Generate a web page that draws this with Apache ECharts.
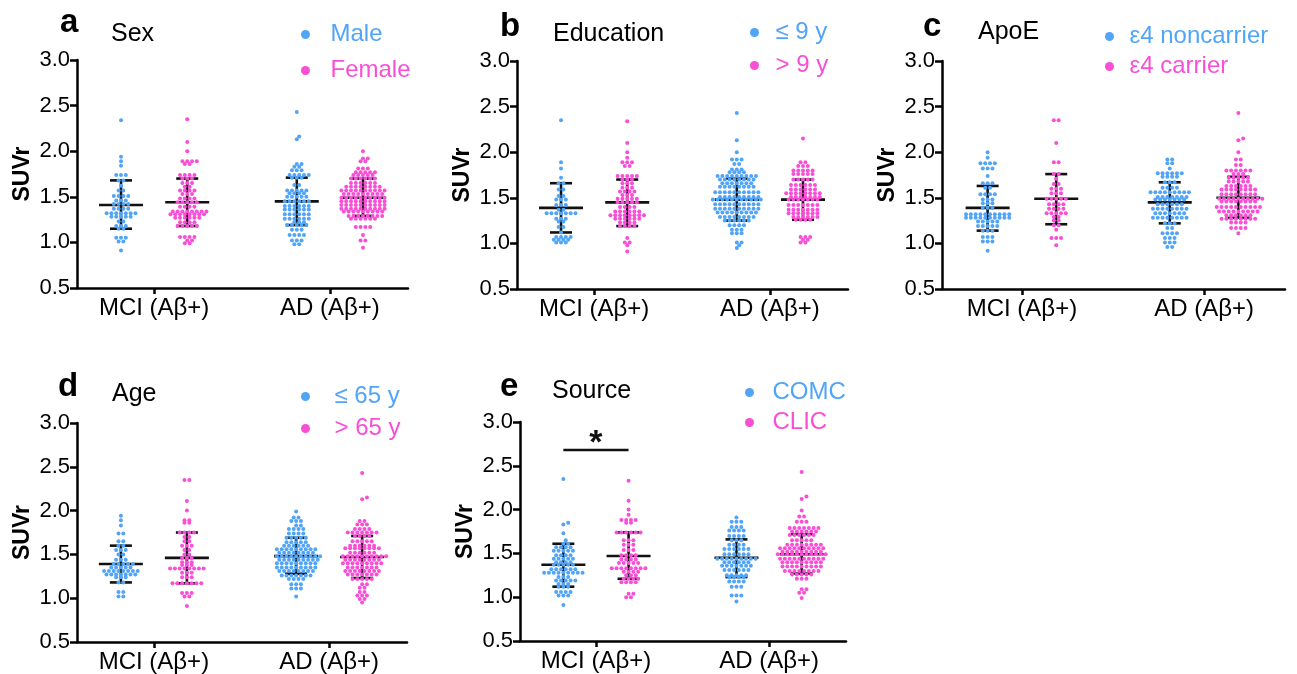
<!DOCTYPE html>
<html><head><meta charset="utf-8">
<script src="https://cdn.jsdelivr.net/npm/echarts@6/dist/echarts.min.js"></script>
<style>html,body{margin:0;padding:0;background:#fff}#c{width:1297px;height:674px}</style>
</head><body><div id="c"></div>
<script>
// ---------------- DATA ----------------
const categories = ['MCI (Aβ+)', 'AD (Aβ+)'];
const yTicks = [0.5, 1.0, 1.5, 2.0, 2.5, 3.0];
const panelLetters = ['a', 'b', 'c', 'd', 'e'];
const panelTitles = ['Sex', 'Education', 'ApoE', 'Age', 'Source'];
const legendNames = [['Male', 'Female'], ['≤ 9 y', '> 9 y'], ['ε4 noncarrier', 'ε4 carrier'], ['≤ 65 y', '> 65 y'], ['COMC', 'CLIC']];

// rows: [SUVr value, number of subjects at that value]
const sexMciMale = [[2.34,1],[1.94,1],[1.89,1],[1.84,1],[1.74,3],[1.68,2],[1.62,1],[1.57,2],[1.51,4],[1.46,3],[1.42,4],[1.37,4],[1.32,7],[1.28,5],[1.23,2],[1.18,3],[1.15,2],[1.05,3],[1.01,2],[0.91,1]];
const sexMciFemale = [[2.35,1],[2.10,1],[2.00,1],[1.89,4],[1.86,2],[1.74,4],[1.70,3],[1.65,3],[1.61,2],[1.57,4],[1.53,3],[1.48,4],[1.44,5],[1.39,4],[1.34,8],[1.31,8],[1.27,6],[1.22,4],[1.18,5],[1.06,4],[1.02,2],[0.99,2]];
const sexAdMale = [[2.43,1],[2.16,1],[2.13,1],[1.86,2],[1.83,2],[1.79,3],[1.74,5],[1.71,3],[1.63,2],[1.57,5],[1.54,4],[1.50,5],[1.45,6],[1.40,6],[1.36,6],[1.31,6],[1.26,6],[1.22,3],[1.19,5],[1.14,3],[1.08,4],[1.02,3],[0.98,2]];
const sexAdFemale = [[2.00,1],[1.92,2],[1.89,2],[1.81,3],[1.77,5],[1.74,5],[1.70,6],[1.65,6],[1.61,8],[1.57,10],[1.53,9],[1.49,10],[1.45,10],[1.41,10],[1.37,10],[1.34,9],[1.29,8],[1.26,6],[1.17,4],[1.08,1],[1.02,2],[0.94,1]];

const eduMciLow = [[2.35,1],[1.89,1],[1.82,1],[1.72,1],[1.66,2],[1.59,2],[1.52,2],[1.48,3],[1.42,3],[1.37,2],[1.33,7],[1.27,3],[1.24,2],[1.18,2],[1.12,1],[1.07,4],[1.04,4],[1.01,3]];
const eduMciHigh = [[2.34,1],[2.10,1],[2.00,1],[1.94,1],[1.89,3],[1.85,2],[1.74,5],[1.70,3],[1.66,3],[1.61,3],[1.57,4],[1.53,3],[1.49,5],[1.45,5],[1.40,4],[1.35,6],[1.31,8],[1.27,6],[1.23,4],[1.19,4],[1.06,1],[1.01,2],[0.98,1],[0.91,1]];
const eduAdLow = [[2.43,1],[2.13,1],[2.00,1],[1.92,3],[1.87,2],[1.81,3],[1.78,4],[1.74,9],[1.70,8],[1.66,7],[1.62,8],[1.56,10],[1.51,9],[1.48,11],[1.43,10],[1.38,10],[1.34,9],[1.29,8],[1.25,6],[1.20,4],[1.15,3],[1.11,3],[1.01,2],[0.98,1],[0.95,1]];
const eduAdHigh = [[2.15,1],[1.89,2],[1.85,3],[1.80,5],[1.76,5],[1.70,5],[1.64,6],[1.59,6],[1.55,8],[1.51,7],[1.48,7],[1.42,7],[1.37,7],[1.33,7],[1.29,6],[1.26,4],[1.07,3],[1.04,2],[1.01,2]];

const apoeMciNon = [[2.00,1],[1.94,1],[1.88,4],[1.82,3],[1.74,1],[1.66,3],[1.61,2],[1.54,4],[1.48,3],[1.44,3],[1.39,3],[1.32,10],[1.28,10],[1.24,5],[1.19,5],[1.14,3],[1.07,3],[1.02,3],[0.92,1]];
const apoeMciCar = [[2.35,2],[2.10,1],[1.89,2],[1.76,2],[1.71,1],[1.65,2],[1.60,3],[1.55,3],[1.49,5],[1.43,4],[1.38,4],[1.33,5],[1.29,2],[1.25,2],[1.20,2],[1.15,1],[1.06,3],[0.98,1]];
const apoeAdNon = [[1.92,2],[1.88,2],[1.82,1],[1.77,6],[1.73,4],[1.67,3],[1.61,4],[1.56,9],[1.51,7],[1.48,7],[1.43,6],[1.38,8],[1.33,7],[1.28,8],[1.22,3],[1.17,2],[1.11,4],[1.06,3],[1.01,3],[0.96,2]];
const apoeAdCar = [[2.43,1],[2.15,1],[2.13,1],[2.00,1],[1.92,2],[1.86,2],[1.80,6],[1.76,3],[1.72,5],[1.68,5],[1.63,6],[1.59,8],[1.54,8],[1.49,10],[1.46,8],[1.40,10],[1.35,9],[1.31,6],[1.27,8],[1.23,4],[1.17,4],[1.11,1]];

const ageMciLow = [[1.94,1],[1.89,1],[1.83,1],[1.74,2],[1.65,2],[1.60,2],[1.55,3],[1.50,2],[1.44,3],[1.39,5],[1.35,5],[1.31,8],[1.27,7],[1.24,3],[1.18,2],[1.07,2],[1.02,2]];
const ageMciHigh = [[2.35,2],[2.11,1],[2.00,1],[1.89,2],[1.86,2],[1.75,4],[1.70,2],[1.65,2],[1.60,3],[1.55,2],[1.50,2],[1.46,3],[1.41,3],[1.38,3],[1.34,8],[1.29,3],[1.24,3],[1.17,7],[1.06,3],[1.02,2],[0.91,1]];
const ageAdLow = [[1.99,1],[1.92,2],[1.88,3],[1.83,2],[1.79,4],[1.74,4],[1.69,5],[1.64,5],[1.60,6],[1.56,9],[1.52,8],[1.48,10],[1.44,9],[1.40,9],[1.35,9],[1.31,8],[1.26,7],[1.22,4],[1.16,3],[1.11,3],[1.02,1]];
const ageAdHigh = [[2.43,1],[2.15,1],[2.13,1],[1.88,2],[1.84,3],[1.79,4],[1.75,7],[1.71,4],[1.65,5],[1.60,6],[1.57,8],[1.52,6],[1.48,10],[1.44,8],[1.40,9],[1.35,7],[1.31,8],[1.27,7],[1.22,5],[1.16,2],[1.12,2],[1.07,2],[1.03,3],[0.99,2],[0.95,1]];

const srcMciComc = [[2.35,1],[1.85,1],[1.83,1],[1.73,1],[1.65,1],[1.61,2],[1.57,4],[1.53,5],[1.48,4],[1.44,5],[1.40,4],[1.37,5],[1.32,6],[1.28,9],[1.23,3],[1.19,5],[1.15,3],[1.12,3],[1.06,4],[1.02,3],[0.91,1]];
const srcMciClic = [[2.33,1],[2.10,1],[2.00,1],[1.94,1],[1.88,4],[1.85,2],[1.74,6],[1.65,3],[1.60,3],[1.54,3],[1.48,4],[1.43,4],[1.39,5],[1.33,8],[1.29,4],[1.25,3],[1.21,4],[1.17,4],[1.04,2],[1.00,2]];
const srcAdComc = [[1.91,1],[1.86,3],[1.80,3],[1.76,4],[1.70,4],[1.65,3],[1.60,4],[1.55,6],[1.49,6],[1.44,9],[1.40,6],[1.36,7],[1.31,6],[1.25,5],[1.23,4],[1.18,4],[1.12,3],[1.02,3],[0.95,1]];
const srcAdClic = [[2.43,1],[2.15,1],[2.12,1],[1.99,1],[1.92,2],[1.86,3],[1.79,7],[1.75,6],[1.71,6],[1.65,5],[1.60,8],[1.56,10],[1.52,9],[1.49,11],[1.44,10],[1.40,9],[1.35,9],[1.30,8],[1.26,5],[1.21,3],[1.09,2],[1.05,2],[0.99,1]];

// [mean, mean-SD, mean+SD] for MCI-blue, MCI-pink, AD-blue, AD-pink
const sexStats = [[1.41,1.15,1.68],[1.44,1.18,1.70],[1.45,1.19,1.71],[1.49,1.29,1.70]];
const eduStats = [[1.39,1.12,1.66],[1.45,1.19,1.70],[1.48,1.25,1.71],[1.48,1.26,1.70]];
const apoeStats = [[1.39,1.14,1.63],[1.49,1.21,1.76],[1.45,1.22,1.67],[1.50,1.28,1.73]];
const ageStats = [[1.39,1.18,1.60],[1.46,1.17,1.75],[1.48,1.28,1.69],[1.47,1.23,1.71]];
const srcStats = [[1.37,1.12,1.61],[1.47,1.21,1.74],[1.45,1.23,1.66],[1.49,1.27,1.72]];

// significance: panel index, group index from, group index to, SUVr level, label
const sigBars = [[4, 0, 1, 2.68, '*']];

// ---------------- LAYOUT ----------------
const FONT = 'Liberation Sans, Arial, sans-serif';
const colors = ['#52a5f6', '#f84fd6'];
const catPos = [0.233, 0.764];
const subPos = [0.133, 0.333, 0.664, 0.864];
const panelGroups = [
  [sexMciMale, sexMciFemale, sexAdMale, sexAdFemale],
  [eduMciLow, eduMciHigh, eduAdLow, eduAdHigh],
  [apoeMciNon, apoeMciCar, apoeAdNon, apoeAdCar],
  [ageMciLow, ageMciHigh, ageAdLow, ageAdHigh],
  [srcMciComc, srcMciClic, srcAdComc, srcAdClic]
];
const panelStats = [sexStats, eduStats, apoeStats, ageStats, srcStats];
const panels = [
  {grid:{left:77, top:60, width:331, height:228}, letter:[60,33], title:[111,42], legend:{left:301, top:22, w:40, gap:11}},
  {grid:{left:517, top:61, width:331, height:228}, letter:[500,37], title:[553,42], legend:{left:750, top:20, w:32, gap:8}},
  {grid:{left:942, top:61, width:343, height:228}, letter:[923,37], title:[978,40], legend:{left:1105, top:24, w:30, gap:5}},
  {grid:{left:77, top:423, width:330, height:220}, letter:[58,397], title:[112,402], legend:{left:301, top:384, w:48, gap:7}},
  {grid:{left:520, top:422, width:326, height:219}, letter:[500,397], title:[552,399], legend:{left:745, top:380, w:36, gap:5}}
];

const DOT_DX = 4.8, DOT_MIN = 3.6;
function swarm(rows, center, grid) {
  const pxY = grid.height / (yTicks[yTicks.length-1] - yTicks[0]);
  const placed = [], pts = [];
  const sorted = rows.slice().sort((a, b) => a[0] - b[0]);
  for (const [v, n] of sorted) {
    const py = v * pxY;
    const base = [];
    for (let i = 0; i < n; i++) base.push((i - (n - 1) / 2) * DOT_DX);
    let best = 0;
    for (const s of [0, DOT_DX/2, -DOT_DX/2, DOT_DX, -DOT_DX]) {
      const ok = base.every(bx => placed.every(([qx, qy]) => Math.hypot(bx + s - qx, py - qy) >= DOT_MIN));
      if (ok) { best = s; break; }
    }
    for (const bx of base) {
      placed.push([bx + best, py]);
      pts.push([center + (bx + best) / grid.width, v]);
    }
  }
  return pts;
}

const grids = [], xAxes = [], yAxes = [], series = [], legends = [], graphics = [];
panels.forEach((pn, p) => {
  grids.push(Object.assign({containLabel:false}, pn.grid));
  xAxes.push({
    type:'value', gridIndex:p, min:0, max:1,
    axisLine:{show:true, onZero:false, lineStyle:{color:'#000', width:2.5}},
    axisTick:{show:true, length:6, lineStyle:{color:'#000', width:2.5}, customValues:catPos},
    axisLabel:{show:true, customValues:catPos, margin:8, color:'#000', fontSize:24, fontFamily:FONT,
      formatter:v => v < 0.5 ? categories[0] : categories[1]},
    splitLine:{show:false}
  });
  yAxes.push({
    type:'value', gridIndex:p, min:yTicks[0], max:yTicks[yTicks.length-1], interval:0.5,
    name:'SUVr', nameLocation:'middle', nameGap:43,
    nameTextStyle:{fontSize:23, fontWeight:'bold', color:'#000', fontFamily:FONT},
    axisLine:{show:true, lineStyle:{color:'#000', width:2.5}},
    axisTick:{show:true, length:7, lineStyle:{color:'#000', width:2.5}},
    axisLabel:{margin:7, color:'#000', fontSize:22, fontFamily:FONT, formatter:v => v.toFixed(1)},
    splitLine:{show:false}
  });
  series.push({
    type:'custom', xAxisIndex:p, yAxisIndex:p, z:2, silent:true,
    data: panelStats[p].map((s, g) => [subPos[g], s[0], s[1], s[2]]),
    encode:{x:0, y:[1,2,3]},
    renderItem:(params, api) => {
      const x = api.value(0);
      const pm = api.coord([x, api.value(1)]), pl = api.coord([x, api.value(2)]), ph = api.coord([x, api.value(3)]);
      const st = {stroke:'#111', lineWidth:2.6};
      return {type:'group', children:[
        {type:'line', shape:{x1:pl[0], y1:pl[1], x2:ph[0], y2:ph[1]}, style:st},
        {type:'line', shape:{x1:pm[0]-22, y1:pm[1], x2:pm[0]+22, y2:pm[1]}, style:st},
        {type:'line', shape:{x1:pl[0]-11, y1:pl[1], x2:pl[0]+11, y2:pl[1]}, style:st},
        {type:'line', shape:{x1:ph[0]-11, y1:ph[1], x2:ph[0]+11, y2:ph[1]}, style:st}
      ]};
    }
  });
  [0, 1].forEach(k => {
    const pts = swarm(panelGroups[p][k], subPos[k], pn.grid).concat(swarm(panelGroups[p][k+2], subPos[k+2], pn.grid));
    series.push({
      type:'scatter', name:legendNames[p][k], xAxisIndex:p, yAxisIndex:p, z:3,
      symbol:'circle', symbolSize:4, itemStyle:{color:colors[k], opacity:1},
      data:pts, silent:true
    });
  });
  legends.push({
    left:pn.legend.left, top:pn.legend.top, orient:'vertical', icon:'circle',
    itemWidth:pn.legend.w, itemHeight:9, itemGap:pn.legend.gap, selectedMode:false, padding:0,
    data:legendNames[p].map((nm, k) => ({name:nm, textStyle:{color:colors[k]}})),
    textStyle:{fontSize:24, lineHeight:25, fontFamily:FONT}
  });
  graphics.push({type:'text', x:pn.letter[0], y:pn.letter[1] - 0.31*33,
    style:{text:panelLetters[p], font:'bold 33px ' + FONT, fill:'#000', textAlign:'left', textVerticalAlign:'middle'}});
  graphics.push({type:'text', x:pn.title[0], y:pn.title[1] - 0.31*25,
    style:{text:panelTitles[p], font:'25px ' + FONT, fill:'#000', textAlign:'left', textVerticalAlign:'middle'}});
});

sigBars.forEach(([p, g1, g2, lvl, lab]) => {
  series.push({
    type:'custom', xAxisIndex:p, yAxisIndex:p, z:4, silent:true,
    data:[[subPos[g1], subPos[g2], lvl]],
    encode:{x:[0,1], y:2},
    renderItem:(params, api) => {
      const a = api.coord([api.value(0), api.value(2)]), b = api.coord([api.value(1), api.value(2)]);
      return {type:'group', children:[
        {type:'line', shape:{x1:a[0], y1:a[1], x2:b[0], y2:b[1]}, style:{stroke:'#111', lineWidth:2.6}},
        {type:'text', x:(a[0]+b[0])/2, y:a[1] - 6.5,
          style:{text:lab, font:'bold 34px ' + FONT, fill:'#111', textAlign:'center', textVerticalAlign:'middle'}}
      ]};
    }
  });
});

const chart = echarts.init(document.getElementById('c'), null, {renderer:'canvas'});
chart.setOption({
  backgroundColor:'#fff', animation:false,
  grid:grids, xAxis:xAxes, yAxis:yAxes, series:series, legend:legends, graphic:graphics
});
</script></body></html>
